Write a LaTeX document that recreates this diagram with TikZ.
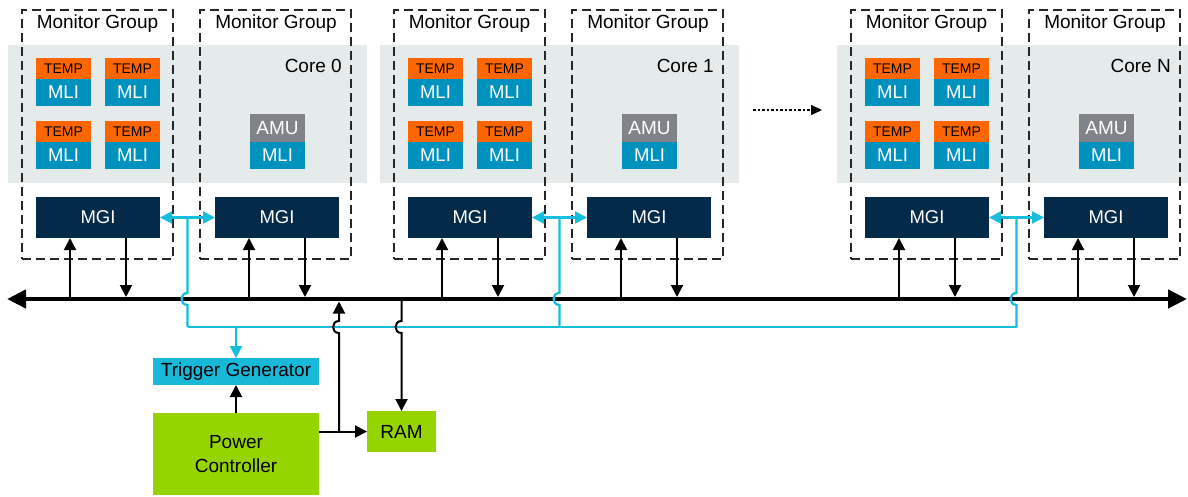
\documentclass[tikz,border=0pt]{standalone}
\usepackage{fontspec}
\setmainfont{Liberation Sans}
\usetikzlibrary{arrows.meta,calc}
\definecolor{tempc}{RGB}{255,102,0}
\definecolor{mlic}{RGB}{0,146,190}
\definecolor{amuc}{RGB}{128,132,137}
\definecolor{mgic}{RGB}{3,42,72}
\definecolor{corec}{RGB}{229,234,234}
\definecolor{cyanc}{RGB}{20,190,220}
\definecolor{tgc}{RGB}{24,184,216}
\definecolor{greenc}{RGB}{150,212,0}
\begin{document}
\begin{tikzpicture}[x=1pt,y=-1pt,
  txt/.style={font=\fontsize{19}{23}\selectfont, inner sep=0pt},
  blockbase/.style={inner sep=0pt, outer sep=0pt, anchor=north west},
  tempbox/.style={blockbase, fill=tempc, minimum width=55pt, minimum height=21pt, font=\fontsize{14}{16}\selectfont, text=black},
  mlibox/.style={blockbase, fill=mlic, minimum width=55pt, minimum height=27pt, font=\fontsize{18.5}{20}\selectfont, text=white},
  amubox/.style={blockbase, fill=amuc, minimum width=55pt, minimum height=28pt, font=\fontsize{19}{20}\selectfont, text=white},
  mgibox/.style={blockbase, fill=mgic, minimum width=124pt, minimum height=41pt, font=\fontsize{18.5}{20}\selectfont, text=white},
  groupbox/.style={blockbase, draw=black!85, line width=1.8pt, dash pattern=on 9pt off 5pt, minimum width=151pt, minimum height=249pt},
  bandbox/.style={blockbase, fill=corec, minimum width=359pt, minimum height=138pt},
  greenbox/.style={blockbase, fill=greenc, font=\fontsize{19}{24}\selectfont, align=center},
  blkline/.style={draw=black, line width=2pt},
  blkarr/.style={blkline, -{Triangle[length=12pt,width=12pt]}},
  cyanline/.style={draw=cyanc, line width=2.2pt},
  cyanarr/.style={cyanline, -{Triangle[length=12pt,width=12pt]}},
  cyandbl/.style={cyanline, {Triangle[length=12pt,width=12pt]}-{Triangle[length=12pt,width=12pt]}}
]
\useasboundingbox (0,0) rectangle (1188,496);
\fill[white] (0,0) rectangle (1188,496);

% core bands
\foreach \o/\i in {8/0, 380/1, 837/2} {
  \node[bandbox] (band\i) at (\o,45) {};
}

\foreach \o/\i/\c in {8/0/0, 380/1/1, 837/2/N} {
  % monitor groups
  \node[groupbox] (mgA\i) at (\o+14,10) {};
  \node[groupbox] (mgB\i) at (\o+192,10) {};
  \node[txt] (lblA\i) at (\o+89.5,24) {Monitor Group};
  \node[txt] (lblB\i) at (\o+268,24) {Monitor Group};
  \node[txt, anchor=east] (core\i) at (\o+334,66) {Core \c};
  % TEMP / MLI
  \foreach \cx/\cc in {28/a, 97/b} {
    \foreach \ry/\rr in {58/1, 121/2} {
      \node[tempbox] (t\i\cc\rr) at (\o+\cx,\ry) {TEMP};
      \node[mlibox] (m\i\cc\rr) at (t\i\cc\rr.south west) {MLI};
    }
  }
  % AMU / MLI
  \node[amubox] (amu\i) at (\o+242,114) {AMU};
  \node[mlibox] (amli\i) at (amu\i.south west) {MLI};
  % MGI
  \node[mgibox] (mgiA\i) at (\o+28,197) {MGI};
  \node[mgibox] (mgiB\i) at (\o+207,197) {MGI};
  \coordinate (cm\i) at ($(mgiA\i.east)!0.5!(mgiB\i.west)$);
}

% bus
\coordinate (busL) at (7,299);
\coordinate (busR) at (1187,299);
\coordinate (cyanH) at (0,327);
\draw[line width=4.5pt, {Triangle[length=19pt,width=18pt]}-{Triangle[length=19pt,width=18pt]}] (busL) -- (busR);

% MGI <-> bus
\foreach \i in {0,1,2} {
  \foreach \g in {A,B} {
    \draw[blkarr] ($(mgi\g\i.south |- busL)+(-28,0)$) -- ($(mgi\g\i.south)+(-28,0)$);
    \draw[blkarr] ($(mgi\g\i.south)+(28,0)$) -- ($(mgi\g\i.south |- busL)+(28,-2)$);
  }
  \draw[cyandbl] (mgiA\i.east) -- (mgiB\i.west);
  \draw[cyanline] (cm\i) -- ($(cm\i |- busL)+(0,-6)$) .. controls +(-8,0) and +(-8,0) .. ($(cm\i |- busL)+(0,6)$) -- (cm\i |- cyanH);
}
\draw[cyanline, line cap=square] (cm0 |- cyanH) -- (cm2 |- cyanH);

% dotted continuation arrow
\coordinate (dotS) at (753,110);
\coordinate (dotE) at (822,110);
\draw[line width=1.6pt, dash pattern=on 2.5pt off 2pt, -{Triangle[length=11pt,width=10pt]}] (dotS) -- (dotE);

% bottom blocks
\node[blockbase, fill=tgc, minimum width=166pt, minimum height=27pt, txt] (tg) at (153,358) {Trigger Generator};
\node[greenbox, minimum width=166pt, minimum height=82pt] (pc) at (153,413) {Power\\Controller};
\node[greenbox, minimum width=69pt, minimum height=41pt] (ram) at (367,411) {RAM};

\draw[cyanarr] (tg.north |- cyanH) -- (tg.north);
\draw[blkarr] (pc.north) -- (tg.south);
\draw[blkarr] (ram.west -| pc.east) -- (ram.west);
\coordinate (pcj) at ($(ram.west -| pc.east)+(20,0)$);
\draw[blkarr] (pcj) -- ($(pcj |- cyanH)+(0,6)$) .. controls +(-8,0) and +(-8,0) .. ($(pcj |- cyanH)+(0,-6)$) -- ($(pcj |- busL)+(0,2.5)$);
\draw[blkarr] (ram.north |- busL) -- ($(ram.north |- cyanH)+(0,-6)$) .. controls +(-8,0) and +(-8,0) .. ($(ram.north |- cyanH)+(0,6)$) -- (ram.north);
\end{tikzpicture}
\end{document}
